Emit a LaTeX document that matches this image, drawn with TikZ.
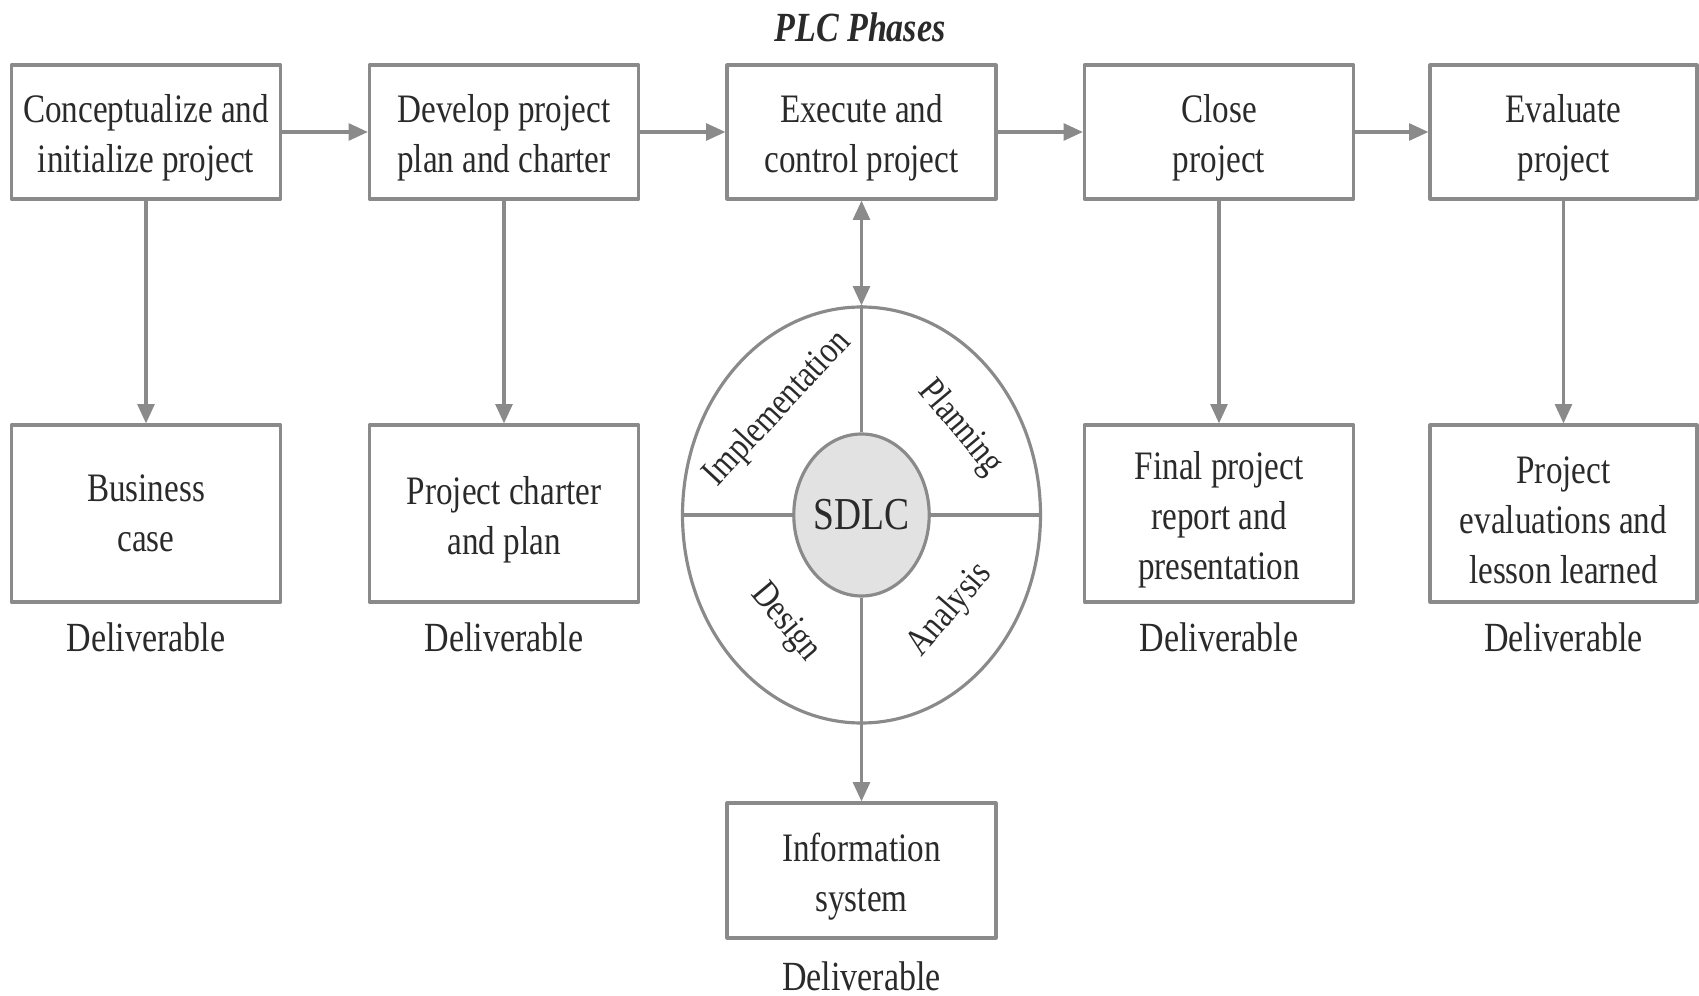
\documentclass[tikz,border=0pt]{standalone}
\usepackage{fontspec}
\setmainfont{Liberation Serif}[FakeStretch=0.82]
\usetikzlibrary{arrows.meta,positioning,shapes.geometric}

\definecolor{linegray}{HTML}{8A8A8A}
\definecolor{txtgray}{HTML}{2A2A2A}
\definecolor{hubgray}{HTML}{E2E2E2}

% strut for the first line of a box text
\newcommand{\lift}{\rule{0pt}{11.5pt}}

\tikzset{
  phase/.style={draw=linegray, line width=0.9pt, minimum width=2.69cm, minimum height=1.34cm,
    inner sep=0pt, align=center, text=txtgray, font=\fontsize{11.5}{14.2}\selectfont},
  deliv/.style={phase, minimum height=1.77cm},
  tag/.style={text=txtgray, font=\fontsize{11.8}{14}\selectfont},
  slice/.style={text=txtgray, font=\fontsize{10.8}{13}\selectfont},
  conn/.style={draw=linegray, line width=0.9pt, -{Triangle[length=5.5pt,width=4.8pt]}}
}

\begin{document}
\begin{tikzpicture}[line join=round]
\useasboundingbox (0,0) rectangle (16.99,9.95);

% --- TITLE ---
\node[text=txtgray, font=\fontsize{11.8}{14}\selectfont\bfseries\itshape] (title) at (8.6,9.68) {PLC Phases};

% --- PHASES (TOP ROW) ---
\node[phase] (concept) at (1.46,8.63) {\lift Conceptualize and\\initialize project};
\node[phase] (develop) at (5.04,8.63) {\lift Develop project\\plan and charter};
\node[phase] (execute) at (8.615,8.63) {\lift Execute and\\control project};
\node[phase] (close)   at (12.19,8.63) {\lift Close\\project};
\node[phase, minimum width=2.67cm] (evaluate) at (15.635,8.63) {\lift Evaluate\\project};

\draw[conn] (concept) -- (develop);
\draw[conn] (develop) -- (execute);
\draw[conn] (execute) -- (close);
\draw[conn] (close) -- (evaluate);

% --- DELIVERABLES ---
\node[deliv] (bizcase) at (1.46,4.815) {Business\\case};
\node[deliv] (charter) at (5.04,4.815) {\lift Project charter\\and plan};
\node[deliv] (report)  at (12.19,4.815) {\lift Final project\\report and\\presentation};
\node[deliv, minimum width=2.67cm] (lessons) at (15.635,4.815) {\lift Project\\evaluations and\\lesson learned};

\draw[conn] (concept) -- (bizcase);
\draw[conn] (develop) -- (charter);
\draw[conn] (close) -- (report);
\draw[conn] (evaluate) -- (lessons);

\foreach \d/\n in {bizcase/1, charter/2, report/4, lessons/5}
  \node[tag, below=0.07cm of \d] (del\n) {Deliverable};

% --- SDLC WHEEL ---
\node[ellipse, draw=linegray, line width=0.9pt, minimum width=3.58cm, minimum height=4.16cm, inner sep=0pt] (wheel) at (8.615,4.80) {};
\node[ellipse, draw=linegray, line width=0.9pt, fill=hubgray, minimum width=1.34cm, minimum height=1.62cm, inner sep=0pt,
      text=txtgray, font=\fontsize{13}{15}\selectfont] (sdlc) at (wheel.center) {SDLC};

\draw[linegray, line width=0.9pt] (wheel.north) -- (sdlc.north);
\draw[linegray, line width=0.9pt] (sdlc.south) -- (wheel.south);
\draw[linegray, line width=0.9pt] (wheel.west) -- (sdlc.west);
\draw[linegray, line width=0.9pt] (sdlc.east) -- (wheel.east);

\node[slice, rotate=47]  (impl)  at (7.78,5.86) {Implementation};
\node[slice, rotate=-50] (plan)  at (9.60,5.67) {Planning};
\node[slice, rotate=-50] (design) at (7.85,3.72) {Design};
\node[slice, rotate=49]  (analysis) at (9.50,3.85) {Analysis};

\draw[conn, {Triangle[length=5.5pt,width=4.8pt]}-{Triangle[length=5.5pt,width=4.8pt]}] (execute) -- (wheel);

% --- PRODUCT ---
\node[phase, minimum height=1.35cm] (infosys) at (8.615,1.245) {\lift Information\\system};
\draw[conn] (wheel) -- (infosys);
\node[tag] (del3) at (8.615,0.19) {Deliverable};
\end{tikzpicture}
\end{document}
